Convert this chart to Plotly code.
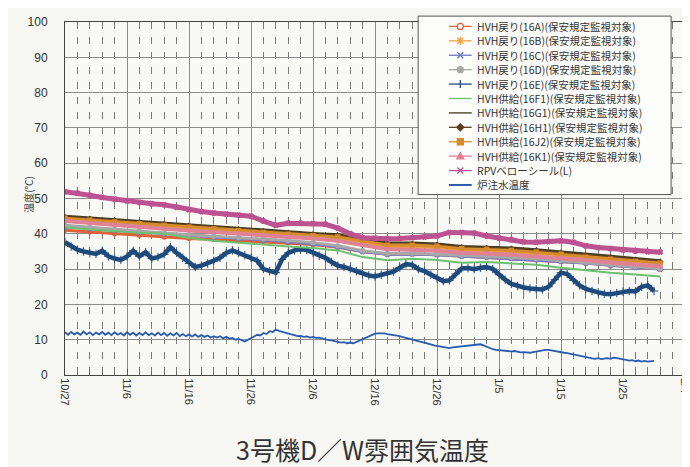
import pandas as pd
import plotly.graph_objects as go

# ---------------- data ----------------
START = "2011-10-27"
X_RANGE = ["2011-10-27", "2012-02-04"]
Y_TICKS = [0, 10, 20, 30, 40, 50, 60, 70, 80, 90, 100]

SERIES_NAMES = [
    "HVH戻り(16A)(保安規定監視対象)",
    "HVH戻り(16B)(保安規定監視対象)",
    "HVH戻り(16C)(保安規定監視対象)",
    "HVH戻り(16D)(保安規定監視対象)",
    "HVH戻り(16E)(保安規定監視対象)",
    "HVH供給(16F1)(保安規定監視対象)",
    "HVH供給(16G1)(保安規定監視対象)",
    "HVH供給(16H1)(保安規定監視対象)",
    "HVH供給(16J2)(保安規定監視対象)",
    "HVH供給(16K1)(保安規定監視対象)",
    "RPVベローシール(L)",
    "炉注水温度",
]

# 4-day samples from 10/27
HVH_16A = [41.0, 40.5, 40.0, 39.6, 39.1, 38.7, 38.4, 38.1, 37.8, 37.5, 37.0, 36.2, 35.0,
           34.2, 34.3, 34.1, 33.7, 33.4, 33.1, 32.7, 32.2, 31.7, 31.1, 30.5, 30.1]
HVH_16B = [44.0, 43.5, 43.0, 42.5, 42.0, 41.5, 41.0, 40.5, 40.0, 39.5, 39.1, 38.7, 37.6,
           36.4, 36.4, 36.1, 35.4, 35.2, 34.9, 34.4, 33.8, 33.0, 32.4, 31.8, 31.4]
HVH_16C = [42.0, 41.5, 41.0, 40.5, 40.0, 39.5, 39.1, 38.7, 38.3, 37.8, 37.2, 36.3, 35.0,
           34.2, 34.3, 34.1, 33.7, 33.4, 33.1, 32.7, 32.2, 31.7, 31.1, 30.5, 30.0]
HVH_16D = [42.4, 41.8, 41.2, 40.7, 40.2, 39.7, 39.3, 38.9, 38.6, 38.1, 37.5, 36.6, 35.2,
           34.4, 34.5, 34.3, 33.9, 33.6, 33.3, 32.9, 32.4, 31.9, 31.3, 30.7, 30.2]
HVH_16F1 = [41.8, 41.2, 40.7, 40.3, 40.0, 38.8, 38.0, 37.5, 36.9, 36.4, 36.0, 35.3, 33.4,
            32.5, 32.9, 32.6, 31.8, 32.0, 31.6, 31.2, 30.4, 29.6, 29.0, 28.5, 27.9]
HVH_16G1 = [45.0, 44.5, 44.0, 43.5, 43.0, 42.5, 42.0, 41.5, 41.0, 40.5, 40.1, 39.7, 38.6,
            37.4, 37.4, 37.1, 36.4, 36.2, 36.0, 35.5, 34.9, 34.1, 33.6, 32.9, 32.4]
HVH_16H1 = [44.7, 44.2, 43.7, 43.2, 42.7, 42.2, 41.7, 41.2, 40.7, 40.2, 39.8, 39.4, 38.3,
            37.1, 37.1, 36.8, 36.1, 35.9, 35.7, 35.2, 34.6, 33.8, 33.3, 32.6, 32.1]
HVH_16J2 = [44.4, 43.9, 43.4, 42.9, 42.4, 41.9, 41.4, 40.9, 40.4, 39.9, 39.5, 39.1, 38.0,
            36.8, 36.8, 36.5, 35.8, 35.6, 35.3, 34.8, 34.2, 33.4, 32.8, 32.2, 31.7]
HVH_16K1 = [43.6, 43.0, 42.5, 42.0, 41.4, 40.9, 40.5, 40.1, 39.7, 39.2, 38.7, 38.0, 36.8,
            35.6, 35.5, 35.2, 34.6, 34.4, 34.1, 33.6, 33.2, 32.6, 31.9, 31.3, 30.8]

# 2-day samples from 10/27
RPV_BELLOWS = [51.9, 51.5, 50.9, 50.3, 49.8, 49.3, 48.9, 48.5, 48.2, 47.5, 46.8, 46.3, 45.9,
               45.6, 45.3, 45.0, 43.6, 42.4, 43.0, 43.0, 42.9, 42.7, 41.6, 40.0, 38.9, 38.7,
               38.6, 38.7, 38.9, 39.1, 39.4, 40.4, 40.4, 40.2, 39.4, 38.8, 38.3, 37.7, 37.6,
               37.8, 38.0, 37.6, 36.6, 36.1, 35.8, 35.4, 35.1, 34.9, 34.8]

# daily samples from 10/27
HVH_16E = [37.6, 36.4, 35.5, 35.0, 34.5, 34.3, 35.2, 33.6, 33.0, 32.6,
           33.6, 35.2, 33.6, 34.8, 33.0, 33.4, 34.2, 36.2, 34.6, 33.2,
           31.6, 30.6, 31.0, 31.6, 32.4, 33.2, 34.6, 35.3, 34.6, 34.0,
           33.2, 32.4, 30.0, 29.4, 29.0, 32.8, 34.6, 35.3, 35.6, 35.4,
           34.6, 33.8, 33.2, 32.0, 31.0, 30.6, 30.0, 29.4, 28.6, 28.2,
           27.9, 28.4, 29.0, 29.3, 30.4, 31.4, 31.2, 30.0, 29.4, 28.4,
           27.4, 26.6, 26.8, 28.6, 30.2, 30.3, 30.0, 30.4, 30.6, 30.0,
           28.4, 27.0, 25.8, 25.2, 24.8, 24.5, 24.3, 24.2, 25.0, 27.0,
           29.0, 28.6, 26.8, 25.4, 24.4, 23.8, 23.4, 23.0, 22.9, 23.2,
           23.6, 23.8, 23.7, 25.0, 25.4, 23.8]

# 12-hour samples from 10/27
REACTOR_WATER = [
    12.1, 11.4, 12.2, 11.5, 12.0, 11.4, 12.3, 11.5, 12.1, 11.3,
    12.0, 11.5, 12.2, 11.4, 12.0, 11.3, 12.1, 11.4, 11.9, 11.2,
    12.1, 11.4, 12.0, 11.2, 11.9, 11.3, 12.1, 11.3, 11.8, 11.2,
    12.0, 11.3, 11.9, 11.1, 11.8, 11.2, 11.9, 11.0, 11.6, 11.0,
    11.5, 10.9, 11.5, 10.8, 11.3, 10.8, 11.2, 10.6, 11.0, 10.6,
    11.0, 10.4, 10.8, 10.3, 10.5, 10.0, 10.2, 9.8, 9.5, 10.0,
    10.5, 10.8, 11.4, 11.2, 11.9, 11.6, 12.4, 12.2, 12.9, 12.5,
    12.2, 11.9, 11.8, 11.5, 11.3, 11.0, 11.1, 10.8, 10.9, 10.6,
    10.8, 10.5, 10.6, 10.3, 10.2, 9.9, 9.8, 9.5, 9.4, 9.2,
    9.3, 9.0, 9.2, 9.0, 9.4, 9.7, 10.2, 10.6, 11.0, 11.4,
    11.7, 11.8, 11.9, 11.8, 11.6, 11.5, 11.4, 11.2, 11.0, 10.7,
    10.5, 10.3, 10.0, 9.8, 9.6, 9.4, 9.2, 8.9, 8.7, 8.4,
    8.2, 8.0, 7.9, 7.7, 7.6, 7.8, 7.9, 8.1, 8.2, 8.3,
    8.4, 8.4, 8.6, 8.5, 8.7, 8.4, 8.0, 7.6, 7.3, 7.1,
    7.0, 7.1, 6.8, 6.9, 6.7, 6.8, 6.6, 6.4, 6.5, 6.3,
    6.3, 6.5, 6.7, 6.9, 7.0, 7.1, 7.1, 6.9, 6.8, 6.6,
    6.5, 6.3, 6.2, 6.0, 5.8, 5.6, 5.4, 5.1, 4.9, 4.8,
    4.7, 4.6, 4.8, 4.5, 4.7, 4.8, 4.6, 4.9, 4.8, 4.7,
    4.5, 4.3, 4.1, 4.2, 3.9, 4.1, 3.8, 4.0, 3.8, 3.9,
    4.0,
]

TITLE = "3号機D／W雰囲気温度"
Y_TITLE = "温度(℃)"

# ---------------- styles ----------------
DATA = [HVH_16A, HVH_16B, HVH_16C, HVH_16D, HVH_16E, HVH_16F1, HVH_16G1,
        HVH_16H1, HVH_16J2, HVH_16K1, RPV_BELLOWS, REACTOR_WATER]
FREQS = ["4D", "4D", "4D", "4D", "D", "4D", "4D", "4D", "4D", "4D", "2D", "12h"]
COLORS = ["#e0603a", "#f0a040", "#7078c0", "#a8a8a8", "#1f4a7c", "#6cc070",
          "#3e3a20", "#5e3e1e", "#d48c2c", "#e08296", "#bc5290", "#2a5cae"]
WIDTHS = [3, 3, 3, 3, 4.5, 2, 3, 3, 3, 4, 5, 1.8]
SYMBOLS = ["circle-open", "asterisk-open", "x", "circle", "cross-thin-open", None,
           None, "diamond", "square", "triangle-up", "x", None]

PL, PR, PT, PB = 57, 682, 7, 367
W, H = 690, 467


def fx(px):
    return (px - PL) / (PR - PL)


def fy(py):
    return (PB - py) / (PB - PT)


fig = go.Figure()
for name, vals, freq, col, wd, sym in zip(SERIES_NAMES, DATA, FREQS, COLORS, WIDTHS, SYMBOLS):
    x = pd.date_range(START, periods=len(vals), freq=freq)
    if sym is None:
        fig.add_trace(go.Scatter(x=x, y=vals, name=name, mode="lines",
                                 line=dict(color=col, width=wd), showlegend=False))
    else:
        msize = 6 if sym == "cross-thin-open" else 4
        mlw = 1.0 if sym == "cross-thin-open" else 1.3
        fig.add_trace(go.Scatter(x=x, y=vals, name=name, mode="lines+markers",
                                 line=dict(color=col, width=wd),
                                 marker=dict(symbol=sym, size=msize, color=col,
                                             line=dict(color=col, width=mlw)),
                                 showlegend=False))

# ---------------- custom legend (compact like the original) ----------------
shapes = []
annotations = []
BOX = dict(x0=413, x1=668, y0=1, y1=183)
shapes.append(dict(type="rect", xref="paper", yref="paper", layer="above",
                   x0=fx(BOX["x0"]), x1=fx(BOX["x1"]), y0=fy(BOX["y1"]), y1=fy(BOX["y0"]),
                   fillcolor="#fdfdfc", line=dict(color="#555", width=1)))

LEG_MARK = {
    "circle-open": ("circle", None),
    "asterisk-open": ("path", "M-3,-3L3,3M-3,3L3,-3M0,-4L0,4"),
    "x": ("path", "M-3,-3L3,3M-3,3L3,-3"),
    "circle": ("circle", None),
    "cross-thin-open": ("path", "M0,-4L0,4"),
    "diamond": ("path", "M0,-3.5L3.5,0L0,3.5L-3.5,0Z"),
    "square": ("path", "M-3,-3L3,-3L3,3L-3,3Z"),
    "triangle-up": ("path", "M-3.5,-2.8L3.5,-2.8L0,3.6Z"),
}
for i, (name, col, sym) in enumerate(zip(SERIES_NAMES, COLORS, SYMBOLS)):
    ry = 11.5 + 14.7 * i
    lw = 2 if i == len(SERIES_NAMES) - 1 else 1.3
    shapes.append(dict(type="line", xref="paper", yref="paper", layer="above",
                       x0=fx(444), x1=fx(467), y0=fy(ry), y1=fy(ry),
                       line=dict(color=col, width=lw)))
    if sym is not None:
        kind, path = LEG_MARK[sym]
        base = dict(xref="paper", yref="paper", layer="above", xsizemode="pixel",
                    ysizemode="pixel", xanchor=fx(455.5), yanchor=fy(ry))
        if kind == "circle":
            filled = sym == "circle"
            shapes.append(dict(type="circle", x0=-3, x1=3, y0=-3, y1=3,
                               fillcolor=col if filled else "#ffffff",
                               line=dict(color=col, width=1.2), **base))
        else:
            closed = path.endswith("Z")
            shapes.append(dict(type="path", path=path,
                               fillcolor=col if closed else None,
                               line=dict(color=col, width=1.3), **base))
    annotations.append(dict(xref="paper", yref="paper", x=fx(470), y=fy(ry),
                            xanchor="left", yanchor="middle", showarrow=False,
                            text=name, font=dict(size=10.5, color="#333",
                                                 family="Noto Sans CJK JP")))

annotations.append(dict(xref="paper", yref="paper", x=fx(20), y=fy(183),
                        xanchor="center", yanchor="middle", showarrow=False,
                        text=Y_TITLE, textangle=-90,
                        font=dict(size=10, color="#444", family="Noto Sans CJK JP")))
annotations.append(dict(xref="paper", yref="paper", x=fx(357), y=fy(442),
                        xanchor="center", yanchor="middle", showarrow=False,
                        text=TITLE,
                        font=dict(size=25, color="#333", family="Noto Sans CJK JP")))

fig.update_layout(
    width=W, height=H,
    margin=dict(l=PL, r=W - PR, t=PT, b=H - PB),
    paper_bgcolor="#f6f6f3",
    plot_bgcolor="#f9f9f6",
    showlegend=False,
    font=dict(family="Noto Sans CJK JP, Liberation Sans", color="#333"),
    shapes=shapes,
    annotations=annotations,
)

DAY_MS = 86400000
fig.update_xaxes(
    type="date", range=X_RANGE, tick0=START, dtick=10 * DAY_MS,
    tickformat="%-m/%-d", tickangle=90,
    tickfont=dict(size=11, family="Liberation Sans", color="#333"),
    showgrid=True, gridcolor="#8c8c8c", gridwidth=1,
    showline=True, linecolor="#444", linewidth=1, mirror=True,
    ticks="inside", ticklen=6, tickcolor="#555",
    minor=dict(tick0=START, dtick=2 * DAY_MS, showgrid=True, griddash="7px,8px",
               gridcolor="#7a7a7a", gridwidth=1, ticks="inside", ticklen=3,
               tickcolor="#666"),
    zeroline=False,
)
fig.update_yaxes(
    range=[0, 100], tickvals=Y_TICKS,
    tickfont=dict(size=12, family="Liberation Sans", color="#333"),
    showgrid=True, gridcolor="#8c8c8c", gridwidth=1,
    showline=True, linecolor="#444", linewidth=1, mirror=True,
    ticks="", ticklabelstandoff=14, zeroline=False,
)

fig.write_html("out.html")
